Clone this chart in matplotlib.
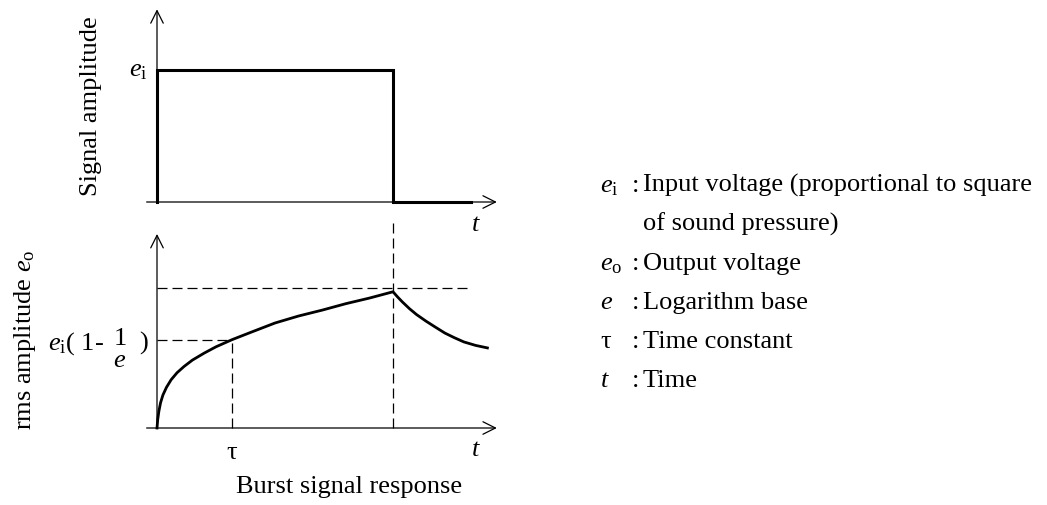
import matplotlib.pyplot as plt

plt.rcParams["font.family"] = ["Liberation Serif", "DejaVu Serif"]
plt.rcParams["mathtext.fontset"] = "custom"
plt.rcParams["mathtext.rm"] = "Liberation Serif"
plt.rcParams["mathtext.it"] = "Liberation Serif:italic"
plt.rcParams["mathtext.bf"] = "Liberation Serif:bold"

FS = 19

# burst input (top panel), time in units of the burst length
burst_t = [0.0, 0.0, 1.0, 1.0, 1.33]
burst_amp = [0.0, 1.0, 1.0, 0.0, 0.0]

# rms detector output (bottom panel)
resp_t = [0.0, 0.003, 0.008, 0.015, 0.025, 0.04, 0.06, 0.085, 0.115, 0.15,
          0.2, 0.25, 0.318, 0.4, 0.5, 0.6, 0.7, 0.8, 0.9, 1.0,
          1.02, 1.04, 1.07, 1.10, 1.14, 1.18, 1.22, 1.26, 1.30, 1.35, 1.40]
resp_amp = [0.0, 0.06, 0.12, 0.18, 0.235, 0.29, 0.345, 0.395, 0.44, 0.485,
            0.535, 0.58, 0.631, 0.685, 0.75, 0.80, 0.842, 0.888, 0.928, 0.973,
            0.935, 0.90, 0.852, 0.81, 0.763, 0.72, 0.678, 0.645, 0.615, 0.59, 0.572]

tau = 0.318
level_tau = 0.631
level_peak = 1.0

legend_symbols = [r"$e_{\rm i}$", "", r"$e_{\rm o}$", r"$e$", "τ", r"$t$"]
legend_texts = ["Input voltage (proportional to square", "of sound pressure)",
                "Output voltage", "Logarithm base", "Time constant", "Time"]

W, H = 1047, 506
fig = plt.figure(figsize=(W / 100, H / 100), dpi=100)


def axes_at(x0, sx, xlim, y0, sy, ylim):
    # place an axes so that the data origin sits at pixel (x0, y0)
    left = x0 + xlim[0] * sx
    right = x0 + xlim[1] * sx
    bottom = y0 - ylim[0] * sy
    top = y0 - ylim[1] * sy
    ax = fig.add_axes([left / W, 1 - bottom / H, (right - left) / W, (bottom - top) / H])
    ax.set_xlim(xlim)
    ax.set_ylim(ylim)
    ax.axis("off")
    return ax


def draw_arrows(ax, ytop):
    arrow = dict(arrowstyle="->,head_length=0.6,head_width=0.3", lw=0.9,
                 color="black", mutation_scale=15, shrinkA=0, shrinkB=0)
    ax.annotate("", xy=(1.44, 0), xytext=(-0.044, 0), arrowprops=arrow,
                annotation_clip=False)
    ax.annotate("", xy=(0, ytop), xytext=(0, 0), arrowprops=arrow,
                annotation_clip=False)


# -----------------------------
# Top: signal amplitude
# -----------------------------
ax1 = axes_at(157, 236, (-0.3, 1.5), 203, 132, (-0.25, 1.5))
draw_arrows(ax1, 1.46)
ax1.plot(burst_t, burst_amp, color="black", lw=2.2, solid_joinstyle="miter")
ax1.text(-0.042, 1.0, r"$e_{\rm i}$", fontsize=FS, ha="right", va="center")
ax1.text(1.35, -0.17, r"$t$", fontsize=FS, ha="center", va="center")

# -----------------------------
# Bottom: rms amplitude
# -----------------------------
ax2 = axes_at(157, 236, (-0.3, 1.5), 429, 140, (-0.25, 1.55))
draw_arrows(ax2, 1.386)
dash = dict(color="black", lw=0.9, linestyle=(0, (8, 4)))
ax2.plot([0, 1.318], [level_peak, level_peak], **dash)
ax2.plot([1.0, 1.0], [0, 1.48], **dash)
ax2.plot([0, tau], [level_tau, level_tau], **dash)
ax2.plot([tau, tau], [0, level_tau], **dash)
ax2.plot(resp_t, resp_amp, color="black", lw=2.0, solid_joinstyle="round")

# e_i(1 - 1/e) label, fraction drawn without a bar as in the original
ax2.text(-0.224, 0.564, r"$e_{\rm i}$( 1-", fontsize=FS, ha="right", va="baseline")
ax2.text(-0.157, 0.60, "1", fontsize=FS, ha="center", va="baseline")
ax2.text(-0.157, 0.443, r"$e$", fontsize=FS, ha="center", va="baseline")
ax2.text(-0.059, 0.564, ")", fontsize=FS, ha="center", va="baseline")

ax2.text(tau, -0.17, "τ", fontsize=FS, ha="center", va="center")
ax2.text(1.35, -0.15, r"$t$", fontsize=FS, ha="center", va="center")

# axis titles
fig.text(91 / W, 1 - 106 / H, "Signal amplitude", fontsize=FS, rotation=90,
         ha="center", va="center")
fig.text(25 / W, 1 - 340 / H, r"rms amplitude $e_{\rm o}$", fontsize=FS,
         rotation=90, ha="center", va="center")
fig.text(349 / W, 1 - 487 / H, "Burst signal response", fontsize=FS,
         ha="center", va="center")

# legend of symbols
row_y = [192, 231, 270, 309, 348, 387]
for sym, txt, y in zip(legend_symbols, legend_texts, row_y):
    if sym:
        fig.text(600 / W, 1 - y / H, sym, fontsize=FS, ha="left", va="baseline")
        fig.text(632 / W, 1 - y / H, ":", fontsize=FS, ha="left", va="baseline")
    fig.text(643 / W, 1 - y / H, txt, fontsize=FS, ha="left", va="baseline")

fig.savefig("out.png", dpi=100)
